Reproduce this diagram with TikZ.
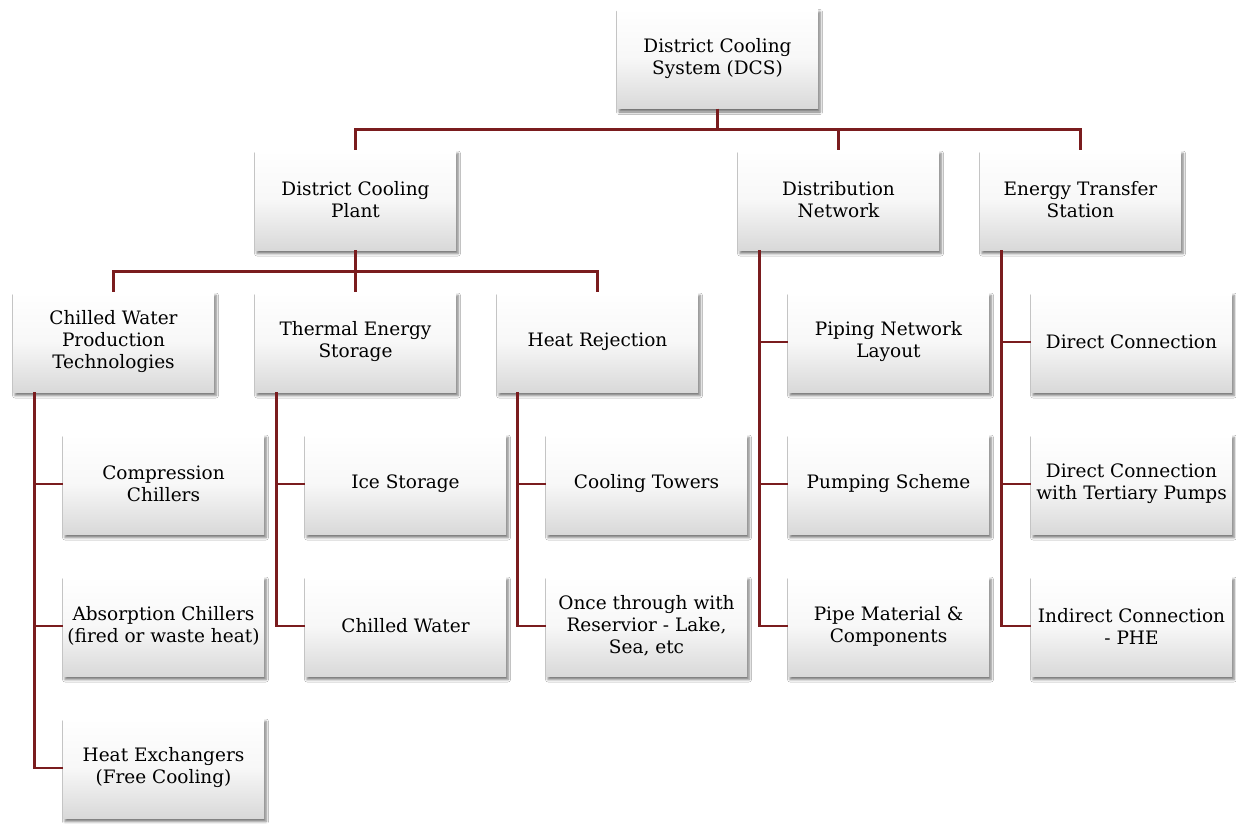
\documentclass[tikz,border=0pt]{standalone}
\usepackage{fontspec}
\setmainfont{DejaVu Serif}
\usetikzlibrary{shadows.blur}
\definecolor{linec}{HTML}{7A1C1E}
\tikzset{
  box/.style={rectangle, minimum width=201pt, minimum height=100pt, inner sep=2pt,
    align=center, top color=white, bottom color=black!15, middle color=white!97!black,
    shading angle=0,
    blur shadow={shadow xshift=2pt, shadow yshift=-3.5pt, shadow blur radius=2.5pt, shadow opacity=55},
    font=\fontsize{18.5}{22}\selectfont, text=black},
  conn/.style={draw=linec, line width=2.7pt}
}
\begin{document}
\begin{tikzpicture}[x=1pt,y=-1pt]
\useasboundingbox[fill=white] (0,0) rectangle (1236,823);
% level 1
\node[box] (dcs) at (717.5,58.5) {District Cooling\\System (DCS)};
% level 2
\node[box] (dcp) at (355.5,200) {District Cooling\\Plant};
\node[box] (dn) at (838.5,200) {Distribution\\Network};
\node[box] (ets) at (1080.5,200) {Energy Transfer\\Station};
% level 3
\node[box] (cw) at (113.5,342) {Chilled Water\\Production\\Technologies};
\node[box] (tes) at (355.5,342) {Thermal Energy\\Storage};
\node[box] (hr) at (597.5,342) {Heat Rejection};
\node[box] (pn) at (888.5,342) {Piping Network\\Layout};
\node[box] (ps) at (888.5,484) {Pumping Scheme};
\node[box] (pm) at (888.5,626) {Pipe Material \&\\Components};
\node[box] (dc) at (1131.5,342) {Direct Connection};
\node[box] (dct) at (1131.5,484) {Direct Connection\\with Tertiary Pumps};
\node[box] (ic) at (1131.5,626) {Indirect Connection\\- PHE};
% level 4
\node[box] (cc) at (163.5,484) {Compression\\Chillers};
\node[box] (ac) at (163.5,626) {Absorption Chillers\\(fired or waste heat)};
\node[box] (hx) at (163.5,768) {Heat Exchangers\\(Free Cooling)};
\node[box] (is) at (405.5,484) {Ice Storage};
\node[box] (chw) at (405.5,626) {Chilled Water};
\node[box] (ct) at (646.5,484) {Cooling Towers};
\node[box] (ot) at (646.5,626) {Once through with\\Reservior - Lake,\\Sea, etc};
% connectors
\draw[conn] (dcs.south) -- ++(0,21) coordinate (h1) -| (dcp.north);
\draw[conn] (h1) -| (dn.north);
\draw[conn] (h1) -| (ets.north);
\draw[conn] (dcp.south) -- ++(0,21) coordinate (h2) -| (cw.north);
\draw[conn] (h2) -| (tes.north);
\draw[conn] (h2) -| (hr.north);
\coordinate (cwd) at ([xshift=22pt]cw.south west);
\draw[conn] (cwd) |- (cc.west);
\draw[conn] (cwd) |- (ac.west);
\draw[conn] (cwd) |- (hx.west);
\coordinate (tesd) at ([xshift=22pt]tes.south west);
\draw[conn] (tesd) |- (is.west);
\draw[conn] (tesd) |- (chw.west);
\coordinate (hrd) at ([xshift=21pt]hr.south west);
\draw[conn] (hrd) |- (ct.west);
\draw[conn] (hrd) |- (ot.west);
\coordinate (dnd) at ([xshift=22pt]dn.south west);
\draw[conn] (dnd) |- (pn.west);
\draw[conn] (dnd) |- (ps.west);
\draw[conn] (dnd) |- (pm.west);
\coordinate (etsd) at ([xshift=22pt]ets.south west);
\draw[conn] (etsd) |- (dc.west);
\draw[conn] (etsd) |- (dct.west);
\draw[conn] (etsd) |- (ic.west);
\end{tikzpicture}
\end{document}
